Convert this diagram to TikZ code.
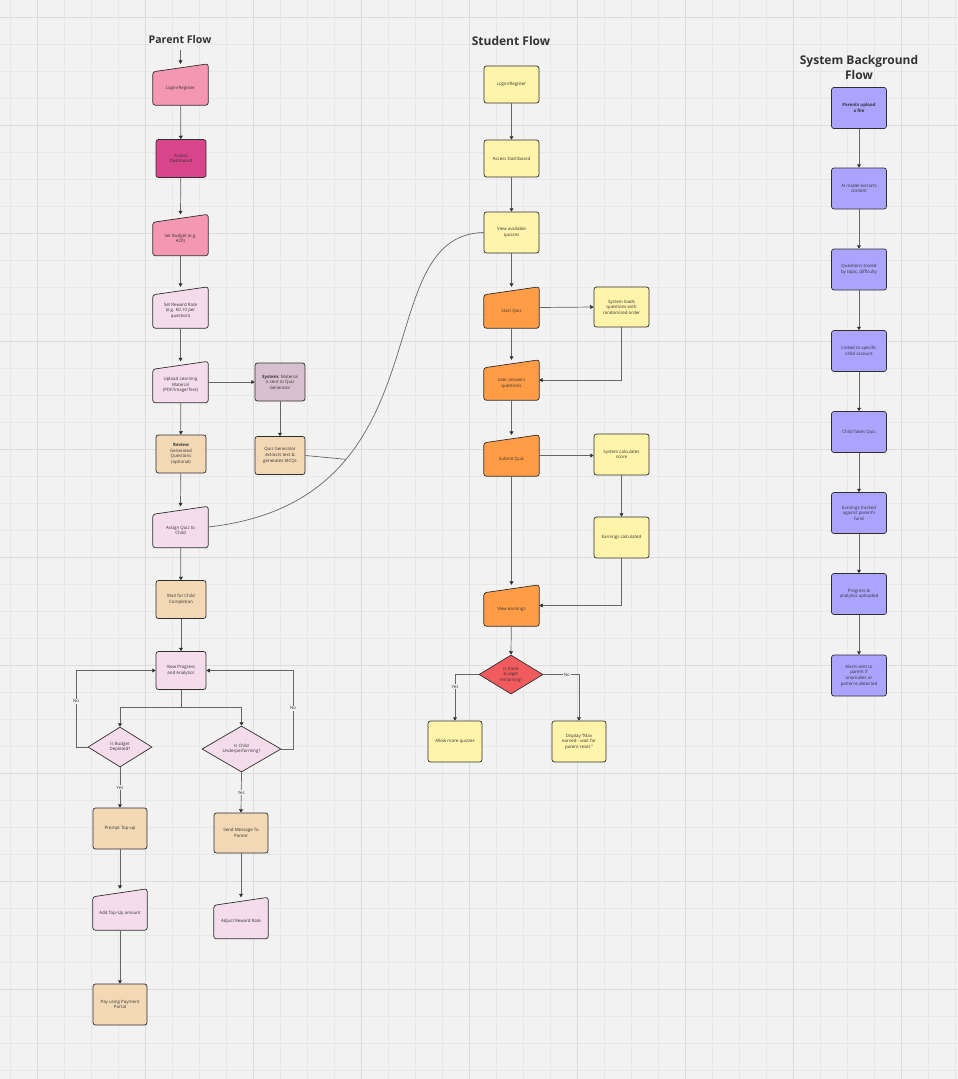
\documentclass[tikz,border=0pt]{standalone}
\usepackage{fontspec}
\setmainfont{Open Sans}
\usetikzlibrary{arrows.meta,shapes.geometric,backgrounds,calc}
\definecolor{canvas}{HTML}{F2F2F2}
\definecolor{gminor}{HTML}{E8E8E8}
\definecolor{gmajor}{HTML}{DCDCDC}
\definecolor{edgec}{HTML}{2E2E2E}
\definecolor{linec}{HTML}{666666}
\definecolor{textc}{HTML}{333333}
\definecolor{pinkA}{HTML}{F497B3}
\definecolor{pinkD}{HTML}{D8458B}
\definecolor{pinkL}{HTML}{F4DCEB}
\definecolor{mauve}{HTML}{D8C1CF}
\definecolor{peach}{HTML}{F3D8B5}
\definecolor{yell}{HTML}{FFF4AA}
\definecolor{orng}{HTML}{FF9C45}
\definecolor{redd}{HTML}{F25B5E}
\definecolor{purp}{HTML}{AAA4FC}
\newcommand\nf{\fontsize{4.4}{5.6}\selectfont}
\begin{document}
\begin{tikzpicture}[x=1pt,y=-1pt,
  rbox/.style={draw=edgec, line width=0.7pt, rounded corners=2.5pt, align=center,
    font=\nf, text=textc, inner sep=1pt},
  mi/.style={inner sep=0pt, minimum width=55pt, minimum height=41pt},
  mit/.style={align=center, font=\nf, text=textc, inner sep=1pt},
  dia/.style={diamond, draw=edgec, line width=0.7pt, align=center, font=\nf,
    text=textc, inner sep=0pt},
  pr/.style={rbox, minimum width=50pt, minimum height=38pt},
  sr/.style={rbox, minimum width=55pt, minimum height=41pt},
  ttl/.style={font=\fontsize{#1}{15}\selectfont\bfseries, text=textc, align=center},
  arr/.style={draw=linec, line width=0.7pt, -{Triangle[width=3.8pt,length=3.4pt,color=edgec]}},
  ln/.style={draw=linec, line width=0.7pt},
  lbl/.style={font=\nf, text=textc, fill=canvas, inner sep=0.8pt}]
\useasboundingbox (0,0) rectangle (958,1079);
% canvas and grid
\begin{pgfonlayer}{background}
\fill[canvas] (0,0) rectangle (958,1079);
\foreach \i in {0,...,35} \draw[gminor, line width=0.6pt] ({10+27*\i},0) -- ({10+27*\i},1079);
\foreach \i in {0,...,39} \draw[gminor, line width=0.6pt] (0,{17.7+27*\i}) -- (958,{17.7+27*\i});
\foreach \i in {0,...,8} \draw[gmajor, line width=0.9pt] ({37+108*\i},0) -- ({37+108*\i},1079);
\foreach \i in {0,...,9} \draw[gmajor, line width=0.9pt] (0,{17.7+108*\i}) -- (958,{17.7+108*\i});
\end{pgfonlayer}

% titles
\node[ttl=10.6] (tP) at (180,40) {Parent Flow};
\node[ttl=12] (tS) at (511,41) {Student Flow};
\node[ttl=12] (tY) at (859,67) {System Background\\Flow};

% ---------- Parent flow ----------
\node[mi] (pLogin) at (180.5,84.5) {};
\node[pr, fill=pinkD] (pDash) at (181,158.5) {Access\\Dashboard};
\node[mi] (pBudget) at (180.5,235) {};
\node[mi] (pReward) at (180.5,307.5) {};
\node[mi] (pUpload) at (180.5,382) {};
\node[pr, fill=mauve] (pSys) at (280,382) {\textbf{System:} Material\\is sent to Quiz\\Generator};
\node[pr, fill=peach] (pReview) at (181,454) {\textbf{Review}\\Generated\\Questions\\(optional)};
\node[pr, fill=peach] (pQuizGen) at (280,455.5) {Quiz Generator\\extracts text \&\\generates MCQs};
\node[mi] (pAssign) at (180.5,527) {};
\node[pr, fill=peach] (pWait) at (181,599.5) {Wait for Child\\Completion};
\node[pr, fill=pinkL] (pView) at (181,670.5) {View Progress\\and Analytics};
\node[dia, fill=pinkL, minimum width=64pt, minimum height=40pt, aspect=1.6] (pBudgetQ) at (120,747) {Is Budget\\Depleted?};
\node[dia, fill=pinkL, minimum width=79pt, minimum height=46pt, aspect=1.7] (pChildQ) at (241.5,749) {Is Child\\Underperforming?};
\node[rbox, fill=peach, minimum width=54pt, minimum height=41pt] (pPrompt) at (120,828.5) {Prompt Top-up};
\node[rbox, fill=peach, minimum width=54pt, minimum height=40pt] (pSend) at (241,833) {Send Message To\\Parent};
\node[mi, minimum width=54pt] (pAddTop) at (120,909.5) {};
\node[mi, minimum width=54pt] (pAdjust) at (241,918) {};
\node[rbox, fill=peach, minimum width=54pt, minimum height=41pt] (pPay) at (120,1004.5) {Pay using Payment\\Portal};

% ---------- Student flow ----------
\node[sr, fill=yell, minimum height=37pt] (sLogin) at (511.5,84.5) {Login/Register};
\node[sr, fill=yell, minimum height=37pt] (sDash) at (511.5,158.5) {Access Dashboard};
\node[sr, fill=yell] (sView) at (511.5,232.5) {View available\\quizzes};
\node[mi] (sStart) at (511.5,307.5) {};
\node[sr, fill=yell, minimum height=40pt] (sLoads) at (621.5,307) {System loads\\questions with\\randomized order};
\node[mi, minimum height=40pt] (sAnswer) at (511.5,380) {};
\node[mi] (sSubmit) at (511.5,455.5) {};
\node[sr, fill=yell] (sCalc) at (621.5,454.5) {System calculates\\score};
\node[sr, fill=yell] (sEarn) at (621.5,537.5) {Earnings calculated};
\node[mi] (sViewEarn) at (511.5,605.5) {};
\node[dia, fill=redd, minimum width=64pt, minimum height=39pt, aspect=1.65] (sQ) at (511,674.5) {Is there\\budget\\remaining?};
\node[rbox, fill=yell, minimum width=54pt, minimum height=41pt] (sAllow) at (455,741.5) {Allow more quizzes};
\node[rbox, fill=yell, minimum width=54pt, minimum height=41pt] (sDisplay) at (579,741.5) {Display "Max\\earned - wait for\\parent reset."};

% ---------- System background flow ----------
\node[sr, fill=purp] (y1) at (859,108) {\textbf{Parents upload}\\\textbf{a file}};
\node[sr, fill=purp] (y2) at (859,188.5) {AI model extracts\\content};
\node[sr, fill=purp] (y3) at (859,269.5) {Questions stored\\by topic, difficulty};
\node[sr, fill=purp] (y4) at (859,351) {Linked to specific\\child account};
\node[sr, fill=purp] (y5) at (859,432) {Child Takes Quiz};
\node[sr, fill=purp] (y6) at (859,513) {Earnings tracked\\against parent's\\fund};
\node[sr, fill=purp] (y7) at (859,594) {Progress \&\\analytics uploaded};
\node[sr, fill=purp] (y8) at (859,675.5) {Alerts sent to\\parent if\\anomalies or\\patterns detected};

% manual-input shapes (behind everything but the grid)
\begin{pgfonlayer}{background}
\foreach \n/\c in {pLogin/pinkA, pBudget/pinkA, pReward/pinkL, pUpload/pinkL, pAssign/pinkL,
  pAddTop/pinkL, pAdjust/pinkL, sStart/orng, sAnswer/orng, sSubmit/orng, sViewEarn/orng}
  \path[draw=edgec, line width=0.7pt, fill=\c, rounded corners=2.5pt]
    (\n.south west) -- ([yshift=-8pt]\n.north west) -- (\n.north east) -- (\n.south east) -- cycle;
\end{pgfonlayer}
% manual-input texts, set a little below the centre as in the slanted shape
\node[mit] (pLoginT) at ([yshift=-3.5pt]pLogin.center) {Login/Register};
\node[mit] (pBudgetT) at ([yshift=-3.5pt]pBudget.center) {Set Budget (e.g.\\€20)};
\node[mit] (pRewardT) at ([yshift=-3pt]pReward.center) {Set Reward Rate\\(e.g. €0.10 per\\question)};
\node[mit] (pUploadT) at ([yshift=-3pt]pUpload.center) {Upload Learning\\Material\\(PDF/Image/Text)};
\node[mit] (pAssignT) at ([yshift=-3.5pt]pAssign.center) {Assign Quiz to\\Child};
\node[mit] (pAddTopT) at ([yshift=-3.5pt]pAddTop.center) {Add Top-Up amount};
\node[mit] (pAdjustT) at ([yshift=-3.5pt]pAdjust.center) {Adjust Reward Rate};
\node[mit] (sStartT) at ([yshift=-3.5pt]sStart.center) {Start Quiz};
\node[mit] (sAnswerT) at ([yshift=-3.5pt]sAnswer.center) {User answers\\questions};
\node[mit] (sSubmitT) at ([yshift=-3.5pt]sSubmit.center) {Submit Quiz};
\node[mit] (sViewEarnT) at ([yshift=-3.5pt]sViewEarn.center) {View earnings};

% ---------- Parent connectors ----------
\coordinate (pEntry) at (180.5,50);
\draw[arr] (pEntry) -- (pLogin.north);
\draw[arr] (pLogin) -- (pDash);
\draw[arr] (pDash) -- (pBudget.north);
\draw[arr] (pBudget) -- (pReward.north);
\draw[arr] (pReward) -- (pUpload.north);
\draw[arr] (pUpload) -- (pSys);
\draw[arr] (pSys) -- (pQuizGen);
\draw[arr] (pUpload) -- (pReview);
\draw[arr] (pReview) -- (pAssign.north);
\draw[arr] (pAssign) -- (pWait);
\draw[arr] (pWait) -- (pView);
\coordinate (pSplit) at (181,707);
\draw[ln] (pView.south) -- (pSplit);
\draw[arr] (pSplit) -| (pBudgetQ.north);
\draw[arr] (pSplit) -| (pChildQ.north);
\draw[arr] (pBudgetQ.west) -- (76,747) |- node[lbl, pos=0.3] {No} (pView.west);
\draw[arr] (pChildQ.east) -- (293,749) |- node[lbl, pos=0.26] {No} (pView.east);
\draw[arr] (pBudgetQ.south) -- node[lbl, pos=0.5] {Yes} (pPrompt.north);
\draw[arr] (pChildQ.south) -- node[lbl, pos=0.5] {Yes} (pSend.north);
\draw[arr] (pPrompt) -- (pAddTop.north);
\draw[arr] (pAddTop) -- (pPay);
\draw[arr] (pSend) -- (pAdjust.north);

% cross-flow curves
\draw[ln] (pAssign.east) .. controls (450,500) and (365,235) .. (sView.west) coordinate[pos=0.28] (jn);
\draw[ln] (pQuizGen.east) -- (jn);

% ---------- Student connectors ----------
\draw[arr] (sLogin) -- (sDash);
\draw[arr] (sDash) -- (sView);
\draw[arr] (sView) -- (sStart.north);
\draw[arr] (sStart.east) -- (sLoads.west);
\draw[arr] (sStart) -- (sAnswer.north);
\draw[arr] (sLoads.south) |- (sAnswer.east);
\draw[arr] (sAnswer) -- (sSubmit.north);
\draw[arr] (sSubmit.east) -- (sCalc.west |- sSubmit.east);
\draw[arr] (sCalc) -- (sEarn);
\draw[arr] (sSubmit) -- (sViewEarn.north);
\draw[arr] (sEarn.south) |- (sViewEarn.east);
\draw[arr] (sViewEarn) -- (sQ.north);
\draw[arr] (sQ.west) -| node[lbl, pos=0.63] {Yes} (sAllow.north);
\draw[arr] (sQ.east) -| node[lbl, pos=0.33] {No} (sDisplay.north);

% ---------- System connectors ----------
\draw[arr] (y1) -- (y2);
\draw[arr] (y2) -- (y3);
\draw[arr] (y3) -- (y4);
\draw[arr] (y4) -- (y5);
\draw[arr] (y5) -- (y6);
\draw[arr] (y6) -- (y7);
\draw[arr] (y7) -- (y8);
\end{tikzpicture}
\end{document}
